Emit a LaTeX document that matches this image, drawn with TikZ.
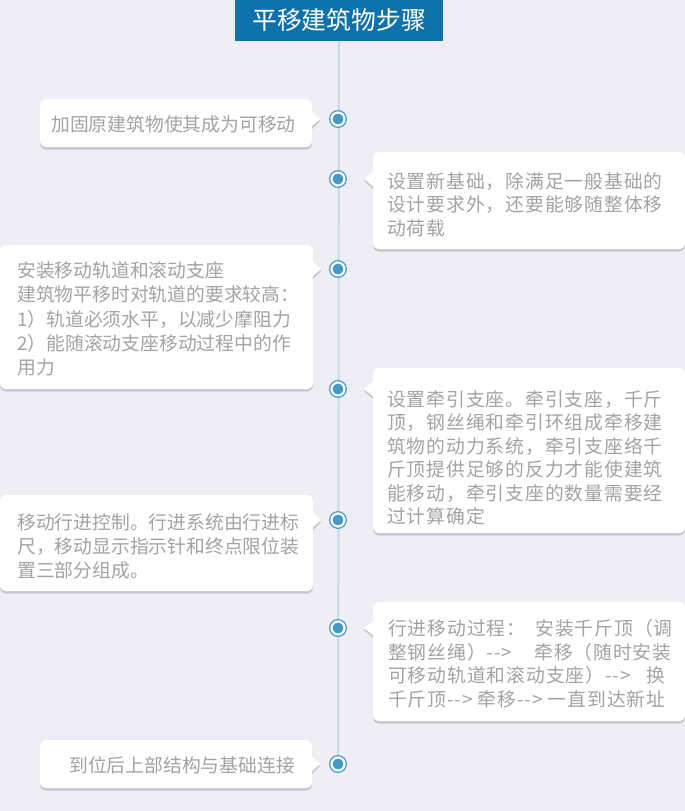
\documentclass[tikz,border=0pt]{standalone}
\usepackage{fontspec}
\newfontfamily\cjk{Noto Sans CJK SC}
\newfontfamily\cjkr{Noto Sans CJK SC}[LetterSpace=5]
\usetikzlibrary{calc,backgrounds}
\definecolor{bgc}{HTML}{EEEEF4}
\definecolor{titlec}{HTML}{0E72AA}
\definecolor{linec}{HTML}{C9D9E8}
\definecolor{dotc}{HTML}{4599C6}
\definecolor{txtc}{HTML}{A3A3A3}
\definecolor{shadc}{HTML}{C8C8CF}
\newcommand{\ptrtoright}[2]{%
  \fill[shadc] ($(#1.east |- #2)+(0,-6)$) -- ($(#1.east |- #2)+(8,2)$) -- ($(#1.east |- #2)+(0,10)$) -- cycle;
  \fill[white] ($(#1.east |- #2)+(-1,-8)$) -- ($(#1.east |- #2)+(8,0)$) -- ($(#1.east |- #2)+(-1,8)$) -- cycle;}
\newcommand{\ptrtoleft}[2]{%
  \fill[shadc] ($(#1.west |- #2)+(0,-6)$) -- ($(#1.west |- #2)+(-9,2)$) -- ($(#1.west |- #2)+(0,10)$) -- cycle;
  \fill[white] ($(#1.west |- #2)+(1,-8)$) -- ($(#1.west |- #2)+(-9,0)$) -- ($(#1.west |- #2)+(1,8)$) -- cycle;}
\begin{document}
\begin{tikzpicture}[x=1pt,y=-1pt,
  cardst/.style={fill=white, rounded corners=6pt, inner sep=0pt, outer sep=0pt, anchor=north west,
    preaction={fill=shadc, transform canvas={yshift=-2.5pt}}},
  lefttxt/.style={font=\cjk\fontsize{18.8}{24.3}\selectfont, text=txtc, align=left, inner sep=0pt, anchor=base west},
  righttxt/.style={font=\cjkr\fontsize{18.8}{23.5}\selectfont, text=txtc, align=left, inner sep=0pt, anchor=base west},
  dotst/.style={circle, fill=dotc, draw=dotc, double=white, double distance=2.2pt, line width=1.3pt,
    minimum size=13pt, inner sep=0pt, outer sep=0pt},
  linest/.style={draw=linec, line width=2pt}]
\useasboundingbox (0,0) rectangle (685,811);
% title
\node[fill=titlec, minimum width=208pt, minimum height=41pt, anchor=north, inner sep=0pt, outer sep=0pt,
  text=white, font=\cjk\fontsize{24.8}{24.8}\selectfont] (title) at (339,0) {平移建筑物步骤};
% markers
\node[dotst] (c1) at (338,119) {};
\node[dotst] (c2) at (338,179) {};
\node[dotst] (c3) at (338,269) {};
\node[dotst] (c4) at (338,389) {};
\node[dotst] (c5) at (338,520) {};
\node[dotst] (c6) at (338,628) {};
\node[dotst] (c7) at (338,764) {};
\begin{pgfonlayer}{background}
  \fill[bgc] (0,0) rectangle (685,811);
  \draw[linest] (title.south) -- (c7.center);
\end{pgfonlayer}
% cards
\node[cardst, minimum width=272pt, minimum height=48pt] (b1) at (40,99) {};
\node[cardst, minimum width=312pt, minimum height=97pt] (b2) at (373,152) {};
\node[cardst, minimum width=313pt, minimum height=144pt] (b3) at (0,245) {};
\node[cardst, minimum width=312pt, minimum height=165pt] (b4) at (373,368) {};
\node[cardst, minimum width=313pt, minimum height=96pt] (b5) at (0,495) {};
\node[cardst, minimum width=312pt, minimum height=119pt] (b6) at (373,602) {};
\node[cardst, minimum width=272pt, minimum height=48pt] (b7) at (40,740) {};
\ptrtoright{b1}{c1}
\ptrtoleft{b2}{c2}
\ptrtoright{b3}{c3}
\ptrtoleft{b4}{c4}
\ptrtoright{b5}{c5}
\ptrtoleft{b6}{c6}
\ptrtoright{b7}{c7}
% texts (anchor = baseline of the last line)
\node[lefttxt] (t1) at (51,131.6) {加固原建筑物使其成为可移动};
\node[righttxt] (t2) at (387,235) {设置新基础，除满足一般基础的\\设计要求外，还要能够随整体移\\动荷载};
\node[lefttxt] (t3) at (17,374.8) {安装移动轨道和滚动支座\\建筑物平移时对轨道的要求较高：\\1）轨道必须水平，以减少摩阻力\\2）能随滚动支座移动过程中的作\\用力};
\node[righttxt] (t4) at (387,523.5) {设置牵引支座。牵引支座，千斤\\顶，钢丝绳和牵引环组成牵移建\\筑物的动力系统，牵引支座络千\\斤顶提供足够的反力才能使建筑\\能移动，牵引支座的数量需要经\\过计算确定};
\node[lefttxt] (t5) at (17,577.6) {移动行进控制。行进系统由行进标\\尺，移动显示指示针和终点限位装\\置三部分组成。};
\node[righttxt] (t6) at (388,706) {行进移动过程：\hspace{10pt}安装千斤顶（调\\整钢丝绳）-{}->\hspace{22pt}牵移（随时安装\\可移动轨道和滚动支座）-{}->\hspace{16pt}换\\千斤顶-{}-> 牵移-{}-> 一直到达新址};
\node[lefttxt] (t7) at (69,772) {到位后上部结构与基础连接};
\end{tikzpicture}
\end{document}
